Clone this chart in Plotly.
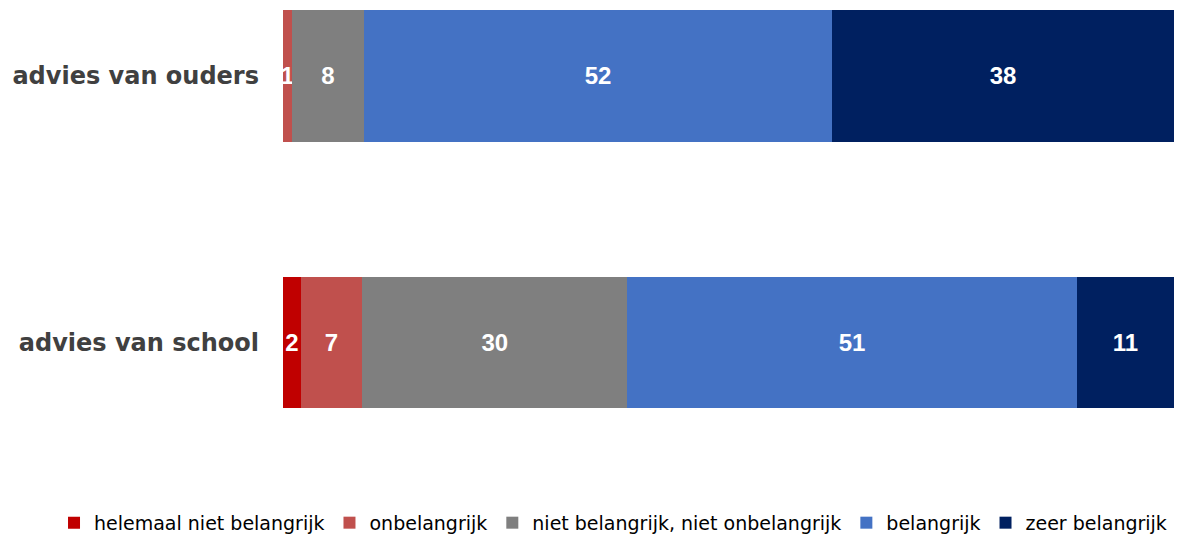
import plotly.graph_objects as go

categories = ["advies van school", "advies van ouders"]
series_names = ["helemaal niet belangrijk", "onbelangrijk", "niet belangrijk, niet onbelangrijk", "belangrijk", "zeer belangrijk"]
helemaal_niet = [2, 0]
onbelangrijk = [7, 1]
neutraal = [30, 8]
belangrijk = [51, 52]
zeer_belangrijk = [11, 38]
colors = ["#C00000", "#C0504D", "#7F7F7F", "#4472C4", "#002060"]

series_values = [helemaal_niet, onbelangrijk, neutraal, belangrijk, zeer_belangrijk]

fig = go.Figure()
for name, vals, col in zip(series_names, series_values, colors):
    fig.add_trace(go.Bar(
        y=categories, x=vals, name=name, orientation="h",
        marker=dict(color=col, line=dict(width=0)),
        text=[str(v) if v > 0 else "" for v in vals],
        textposition="inside", insidetextanchor="middle",
        textfont=dict(family="Liberation Sans, Arial", size=24, color="white", weight="bold"),
        constraintext="none",
        hoverinfo="skip",
    ))

# the page body adds an 8px offset, so the figure is 8px smaller than the window
fig.update_layout(
    barmode="stack", barnorm="percent", bargap=0.505,
    width=1178, height=527,
    margin=dict(l=275, r=12, t=0, b=75, autoexpand=False),
    plot_bgcolor="white", paper_bgcolor="white",
    uniformtext=dict(minsize=24, mode="show"),
    showlegend=True,
    legend=dict(orientation="h", x=-0.257, xanchor="left", y=-0.139, yanchor="middle",
                font=dict(family="DejaVu Sans, Verdana", size=19, color="#000000"),
                traceorder="normal", tracegroupgap=0, itemwidth=30),
    xaxis=dict(range=[0, 100], visible=False),
    yaxis=dict(type="category", categoryorder="array", categoryarray=categories,
               range=[-0.441, 1.255], showgrid=False, zeroline=False, showline=False,
               ticks="", ticklabelstandoff=23, automargin=False,
               tickfont=dict(family="DejaVu Sans, Verdana", size=24, color="#404040", weight="bold")),
)

fig.write_html("out.html")
